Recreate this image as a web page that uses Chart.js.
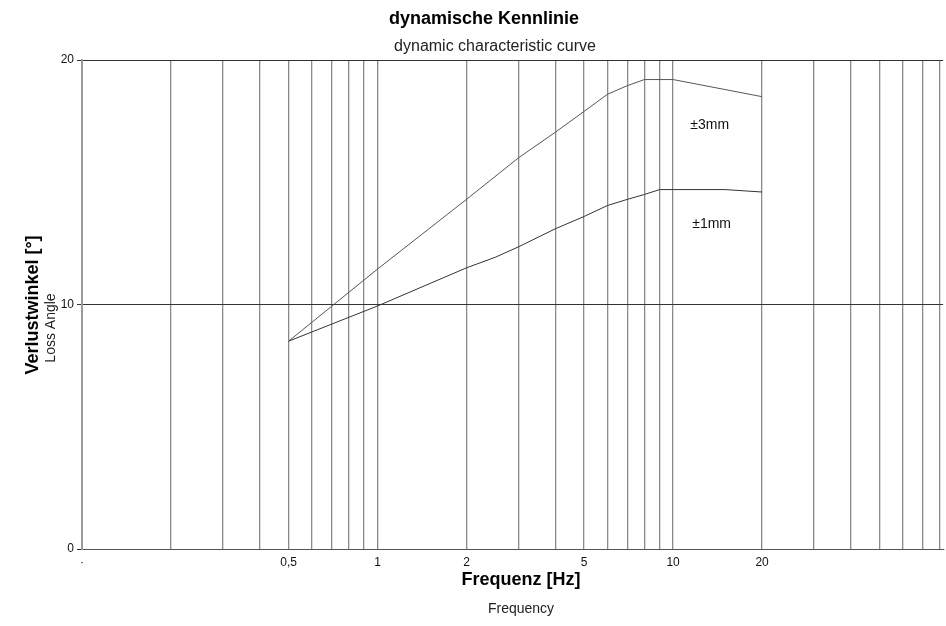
<!DOCTYPE html>
<html>
<head>
<meta charset="utf-8">
<script src="https://cdn.jsdelivr.net/npm/chart.js@4/dist/chart.umd.min.js"></script>
<style>
  html, body { margin: 0; padding: 0; background: #fff; }
  #wrap { width: 946px; height: 626px; }
</style>
</head>
<body>
<div id="wrap"><canvas id="kennlinie" width="946" height="626"></canvas></div>
<script>
// dynamische Kennlinie — loss angle vs. frequency (log x)

// ---- data ----
const freq3mm  = [0.5, 1, 2, 3, 4, 5, 6, 7, 8, 10, 20];
const angle3mm = [8.5, 11.45, 14.3, 16.0, 17.05, 17.9, 18.6, 18.95, 19.2, 19.2, 18.5];

const freq1mm  = [0.5, 1, 2, 2.5, 3, 4, 5, 6, 7, 8, 9, 10, 15, 20];
const angle1mm = [8.5, 9.94, 11.5, 11.93, 12.36, 13.1, 13.6, 14.05, 14.3, 14.5, 14.7, 14.7, 14.7, 14.6];

const gridFreqs = [0.1, 0.2, 0.3, 0.4, 0.5, 0.6, 0.7, 0.8, 0.9,
                   1, 2, 3, 4, 5, 6, 7, 8, 9,
                   10, 20, 30, 40, 50, 60, 70, 80];
const labelFreqs = { 0.5: "0,5", 1: "1", 2: "2", 5: "5", 10: "10", 20: "20" };

const curveLabels = [
  { text: "±3mm", x: 13.3, y: 17.35 },
  { text: "±1mm", x: 13.5, y: 13.3 }
];

const FONT = "'Liberation Sans', Arial, sans-serif";

// text that Chart.js has no slot for: titles with a second line in another font
const textPlugin = {
  id: "kennlinieText",
  afterDraw(chart) {
    const { ctx, chartArea: { left, right, top, bottom }, scales: { x, y } } = chart;
    ctx.save();
    ctx.fillStyle = "#000";
    ctx.textAlign = "center";
    ctx.textBaseline = "middle";

    ctx.font = "bold 18px " + FONT;
    ctx.fillText("dynamische Kennlinie", 484, 19);
    ctx.font = "16px " + FONT;
    ctx.fillStyle = "#222";
    ctx.fillText("dynamic characteristic curve", 495, 47);

    ctx.fillStyle = "#000";
    ctx.font = "bold 18px " + FONT;
    ctx.fillText("Frequenz [Hz]", 521, bottom + 31);
    ctx.fillStyle = "#222";
    ctx.font = "14px " + FONT;
    ctx.fillText("Frequency", 521, bottom + 60);

    // y titles, rotated
    ctx.save();
    ctx.translate(33, 305);
    ctx.rotate(-Math.PI / 2);
    ctx.fillStyle = "#000";
    ctx.font = "bold 18px " + FONT;
    ctx.fillText("Verlustwinkel [°]", 0, 0);
    ctx.restore();
    ctx.save();
    ctx.translate(51, 328);
    ctx.rotate(-Math.PI / 2);
    ctx.fillStyle = "#222";
    ctx.font = "14px " + FONT;
    ctx.fillText("Loss Angle", 0, 0);
    ctx.restore();

    // curve labels at data positions
    ctx.fillStyle = "#111";
    ctx.font = "14px " + FONT;
    curveLabels.forEach(l => ctx.fillText(l.text, x.getPixelForValue(l.x), y.getPixelForValue(l.y)));
    ctx.restore();
  }
};

const toPoints = (xs, ys) => xs.map((f, i) => ({ x: f, y: ys[i] }));

new Chart(document.getElementById("kennlinie"), {
  type: "line",
  plugins: [textPlugin],
  data: {
    datasets: [
      {
        label: "±3mm",
        data: toPoints(freq3mm, angle3mm),
        borderColor: "#555",
        borderWidth: 1,
        pointRadius: 0,
        tension: 0
      },
      {
        label: "±1mm",
        data: toPoints(freq1mm, angle1mm),
        borderColor: "#333",
        borderWidth: 1,
        pointRadius: 0,
        tension: 0
      }
    ]
  },
  options: {
    responsive: false,
    animation: false,
    layout: { padding: { top: 60, right: 0, left: 0, bottom: 0 } },
    plugins: {
      legend: { display: false },
      tooltip: { enabled: false },
      title: { display: false }
    },
    scales: {
      x: {
        type: "logarithmic",
        min: 0.1,
        max: 82,
        afterBuildTicks: scale => { scale.ticks = gridFreqs.map(v => ({ value: v })); },
        afterFit: scale => { scale.height = 77; },
        ticks: {
          autoSkip: false,
          maxRotation: 0,
          color: "#111",
          font: { family: FONT, size: 12 },
          padding: 6,
          callback: v => labelFreqs[v] ?? (v === 0.1 ? "·" : "")
        },
        grid: { color: "#8a8a8a", lineWidth: 1.3, drawTicks: false },
        border: { color: "#555", width: 1 }
      },
      y: {
        min: 0,
        max: 20,
        afterBuildTicks: scale => { scale.ticks = [0, 10, 20].map(v => ({ value: v })); },
        afterFit: scale => { scale.width = 82; },
        ticks: {
          color: "#111",
          font: { family: FONT, size: 12 },
          padding: 3
        },
        grid: { color: "#333", lineWidth: 1, tickLength: 5 },
        border: { color: "#9a9a9a", width: 2 }
      }
    }
  }
});
</script>
</body>
</html>
